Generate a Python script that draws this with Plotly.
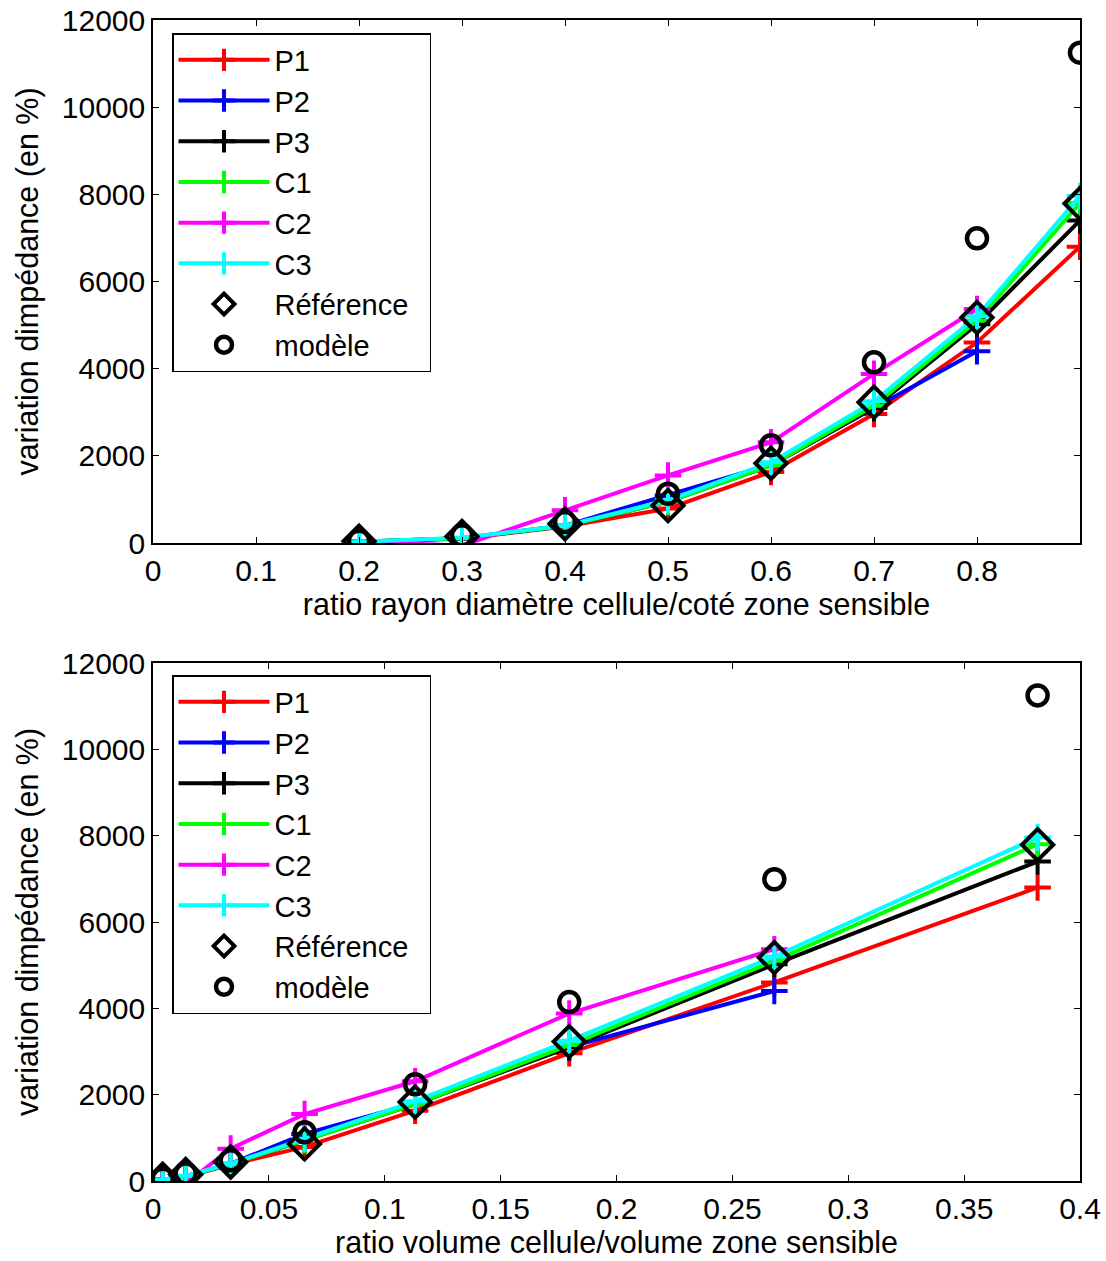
import plotly.graph_objects as go
from plotly.subplots import make_subplots

# ---- data ----
x_ratio = [0.2, 0.3, 0.4, 0.5, 0.6, 0.7, 0.8, 0.9]
x_volume = [0.0042, 0.0141, 0.0335, 0.0654, 0.1131, 0.1796, 0.2681, 0.3817]

P1 = [30, 100, 380, 790, 1630, 2960, 4600, 6800]
P2 = [30, 110, 400, 1090, 1800, 3100, 4400]
P3 = [30, 110, 390, 950, 1780, 3100, 5020, 7400]
C1 = [30, 110, 390, 950, 1780, 3150, 5100, 7800]
C2 = [40, -60, 750, 1550, 2310, 3880, 5370]
C3 = [30, 120, 400, 980, 1850, 3250, 5200, 7960]
reference = [40, 150, 440, 860, 1830, 3230, 5175, 7790]
modele = [50, 175, 480, 1130, 2240, 4145, 6990, 11250]

series_names = ["P1", "P2", "P3", "C1", "C2", "C3"]
series_vals = [P1, P2, P3, C1, C2, C3]
series_colors = ["#ff0000", "#0000ff", "#000000", "#00ff00", "#ff00ff", "#00ffff"]
ref_name = "Référence"
mod_name = "modèle"

y_ticks = [0, 2000, 4000, 6000, 8000, 10000, 12000]
x1_ticks = [0, 0.1, 0.2, 0.3, 0.4, 0.5, 0.6, 0.7, 0.8]
x2_ticks = [0, 0.05, 0.1, 0.15, 0.2, 0.25, 0.3, 0.35, 0.4]

FONT = "Liberation Sans, Arial, sans-serif"
FS = 30

W, H = 1106, 1261
ML, MR, MT, MB = 153, 26, 20, 80
PH = H - MT - MB
PW = W - ML - MR

def py(pix):
    return (H - MB - pix) / PH

def px(pix):
    return (pix - ML) / PW

fig = make_subplots(rows=2, cols=1, vertical_spacing=0.1)

for row, xs, leg in [(1, x_ratio, "legend"), (2, x_volume, "legend2")]:
    for name, vals, col in zip(series_names, series_vals, series_colors):
        fig.add_trace(go.Scatter(
            x=xs[:len(vals)], y=vals, name=name, mode="lines+markers",
            line=dict(color=col, width=4),
            marker=dict(symbol="cross-thin", size=19, line=dict(color=col, width=4)),
            legend=leg), row=row, col=1)
    fig.add_trace(go.Scatter(
        x=xs, y=reference, name=ref_name + "\u00a0\u00a0", mode="markers",
        marker=dict(symbol="diamond-open", size=24, color="black", line=dict(color="black", width=4)),
        legend=leg), row=row, col=1)
    fig.add_trace(go.Scatter(
        x=xs, y=modele, name=mod_name, mode="markers",
        marker=dict(symbol="circle-open", size=20, color="black", line=dict(color="black", width=4.5)),
        legend=leg), row=row, col=1)

axis_common = dict(showgrid=False, zeroline=False, showline=True, linecolor="black", linewidth=1.5,
                   mirror="ticks", ticks="inside", ticklen=6, tickwidth=1.2, tickcolor="black",
                   automargin=False, ticklabeloverflow="allow",
                   tickfont=dict(family=FONT, size=FS, color="black"))

ytext = [str(v) for v in y_ticks]
TFS = 30.5

fig.update_layout(
    width=W, height=H, margin=dict(l=ML, r=MR, t=MT, b=MB),
    plot_bgcolor="white", paper_bgcolor="white",
    font=dict(family=FONT, size=FS, color="black"),
    xaxis=dict(domain=[0, 1], range=[0, 0.9], tickvals=x1_ticks, ticktext=[str(v) for v in x1_ticks],
               title=dict(text="ratio rayon diamètre cellule/coté zone sensible", font=dict(family=FONT, size=TFS), standoff=7),
               **axis_common),
    yaxis=dict(domain=[py(543), py(20)], range=[0, 12000], tickvals=y_ticks, ticktext=ytext,
               title=dict(text="variation dimpédance (en %)", font=dict(family=FONT, size=TFS), standoff=14),
               **axis_common),
    xaxis2=dict(domain=[0, 1], range=[0, 0.4], tickvals=x2_ticks, ticktext=[str(v) for v in x2_ticks],
                title=dict(text="ratio volume cellule/volume zone sensible", font=dict(family=FONT, size=TFS), standoff=5),
                **axis_common),
    yaxis2=dict(domain=[py(1181), py(663)], range=[0, 12000], tickvals=y_ticks, ticktext=ytext,
                title=dict(text="variation dimpédance (en %)", font=dict(family=FONT, size=TFS), standoff=14),
                **axis_common),
    legend=dict(x=px(172), y=py(33), xanchor="left", yanchor="top",
                bgcolor="white", bordercolor="black", borderwidth=1.5,
                font=dict(family=FONT, size=29), itemwidth=91, tracegroupgap=0),
    legend2=dict(x=px(172), y=py(675), xanchor="left", yanchor="top",
                 bgcolor="white", bordercolor="black", borderwidth=1.5,
                 font=dict(family=FONT, size=29), itemwidth=91, tracegroupgap=0),
    showlegend=True,
)

fig.write_html("out.html", config={"displayModeBar": False},
               post_script="document.body.style.margin='0';document.body.style.overflow='hidden';")
